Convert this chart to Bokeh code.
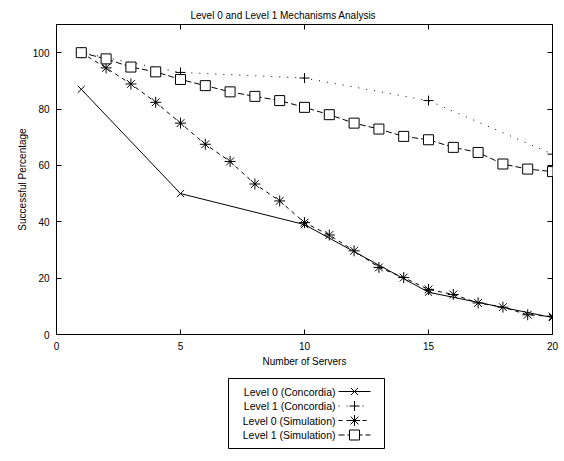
from bokeh.plotting import figure
from bokeh.models import Range1d, FixedTicker, LinearAxis
from bokeh.layouts import column
from bokeh.embed import file_html
from bokeh.resources import INLINE
from bokeh.core.properties import value

FONT = "Liberation Sans"

# ---- data ----
x_conc = [1, 5, 10, 15, 20]
lvl0_conc = [87, 50, 39, 15, 6]
lvl1_conc = [100, 93, 91, 83, 64]
x_sim = list(range(1, 21))
lvl0_sim = [100, 94.6, 88.9, 82.4, 75.0, 67.5, 61.4, 53.4, 47.4, 39.7,
            35.3, 29.7, 23.8, 20.2, 16.0, 14.2, 11.2, 9.7, 7.0, 6.4]
lvl1_sim = [100, 97.8, 94.9, 93.2, 90.5, 88.3, 86.1, 84.5, 83.0, 80.6,
            78.0, 75.0, 72.9, 70.3, 69.1, 66.4, 64.6, 60.5, 58.7, 57.8]
x_ticks = [0, 5, 10, 15, 20]
y_ticks = [0, 20, 40, 60, 80, 100]
X_MAX, Y_MAX = 20, 110
series_labels = ["Level 0 (Concordia)", "Level 1 (Concordia)",
                 "Level 0 (Simulation)", "Level 1 (Simulation)"]
series_dash = ["solid", "1 7", "4 4", "6 3"]
series_marker = ["x", "cross", "asterisk", "square"]
series_size = [10, 10, 11, 10]

ML, FW, MR = 56, 496, 12
MT, FH, MB = 24, 310, 40
TICK = 5  # px

p = figure(frame_width=FW, frame_height=FH,
           x_range=Range1d(0, X_MAX), y_range=Range1d(0, Y_MAX),
           output_backend="svg", toolbar_location=None,
           min_border_left=ML, min_border_right=MR, min_border_top=MT,
           min_border_bottom=MB, background_fill_color="white",
           border_fill_color="white")
p.title.text = "Level 0 and Level 1 Mechanisms Analysis"
p.title.align = "left"
p.title.offset = 134
p.title.standoff = 8
p.title.text_font = FONT
p.title.text_font_size = "10px"
p.title.text_font_style = "normal"
p.title.text_color = "black"

p.xgrid.visible = False
p.ygrid.visible = False
p.outline_line_color = "black"
p.outline_line_width = 1
p.outline_line_alpha = 1

for ax, ticks in ((p.xaxis[0], x_ticks), (p.yaxis[0], y_ticks)):
    ax.ticker = FixedTicker(ticks=ticks)
    ax.major_tick_in = TICK
    ax.major_tick_out = 0
    ax.minor_tick_line_color = None
    ax.axis_line_color = "black"
    ax.major_tick_line_color = "black"
    ax.major_label_text_font = FONT
    ax.major_label_text_font_size = "10px"
    ax.major_label_text_color = "black"
    ax.axis_label_text_font = FONT
    ax.axis_label_text_font_size = "10px"
    ax.axis_label_text_font_style = "normal"
    ax.axis_label_text_color = "black"
p.xaxis.axis_label = "Number of Servers"
p.yaxis.axis_label = "Successful Percentage"
p.xaxis.major_label_standoff = 7
p.yaxis.major_label_standoff = 7
p.xaxis.axis_label_standoff = 3
p.yaxis.axis_label_standoff = 2

# mirrored inward ticks on the top and right edges (label-less axes)
for loc, ticks in (("above", x_ticks), ("right", y_ticks)):
    a = LinearAxis(ticker=FixedTicker(ticks=ticks), major_label_text_color=None,
                   major_label_text_font_size="1px", major_label_standoff=0,
                   axis_line_color=None, major_tick_in=TICK, major_tick_out=0,
                   minor_tick_line_color=None, major_tick_line_color="black")
    p.add_layout(a, loc)

# series
p.line(x_conc, lvl0_conc, line_color="black", line_width=1)
p.scatter(x_conc, lvl0_conc, marker="x", size=10, line_color="black")
p.line(x_conc, lvl1_conc, line_color="black", line_width=1, line_dash="1 7")
p.scatter(x_conc, lvl1_conc, marker="cross", size=10, line_color="black")
p.line(x_sim, lvl0_sim, line_color="black", line_width=1, line_dash="4 4")
p.scatter(x_sim, lvl0_sim, marker="asterisk", size=11, line_color="black")
p.line(x_sim, lvl1_sim, line_color="black", line_width=1, line_dash="6 3")
p.scatter(x_sim, lvl1_sim, marker="square", size=10, line_color="black",
          fill_color="white")

# ---- legend panel (page-pixel coordinates; labels left of samples) ----
TOP = MT + FH + MB          # page y where the legend panel starts
LH = 461 - TOP
lf = figure(frame_width=FW, frame_height=LH,
            x_range=Range1d(ML, ML + FW), y_range=Range1d(TOP + LH, TOP),
            output_backend="svg", toolbar_location=None,
            min_border_left=ML, min_border_right=MR, min_border_top=0,
            min_border_bottom=0,
            x_axis_location=None, y_axis_location=None,
            outline_line_color=None, border_fill_color="white")
lf.grid.visible = False
box_l, box_r, box_t, box_b = 228, 384, 378, 448
lf.quad(left=[box_l], right=[box_r], top=[box_t], bottom=[box_b],
        fill_color=None, line_color="black", line_width=1)
rows = [391, 405.5, 420, 434.5]
lf.text(x=[335] * 4, y=rows, text=series_labels, text_align="right",
        text_baseline="middle", text_font=value(FONT), text_font_size="10.5px",
        text_color="black")
for r, d, m, s in zip(rows, series_dash, series_marker, series_size):
    lf.segment(x0=[338], y0=[r], x1=[370], y1=[r], line_color="black",
               line_width=1, line_dash=d)
    if m == "square":
        lf.scatter([354], [r], marker=m, size=s, line_color="black", fill_color="white")
    else:
        lf.scatter([354], [r], marker=m, size=s, line_color="black")

layout = column(p, lf, spacing=0)
open("out.html", "w").write(file_html(layout, INLINE))
